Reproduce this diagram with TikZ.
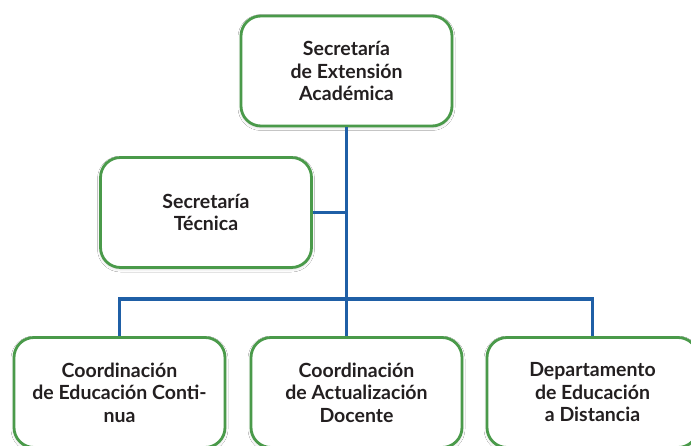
\documentclass[tikz,border=0pt]{standalone}
\usepackage{fontspec}
\setmainfont{Lato}
\usetikzlibrary{shadows.blur}
\definecolor{boxgreen}{HTML}{4A9A4A}
\definecolor{linkblue}{HTML}{1F5FA6}
\definecolor{txt}{HTML}{231F20}
\begin{document}
\begin{tikzpicture}[x=1pt,y=-1pt,
  orgbox/.style={draw=boxgreen, line width=2.8pt, fill=white, rounded corners=20pt,
    minimum width=211pt, minimum height=110pt, inner sep=0pt, align=center,
    text=txt, font=\fontsize{19.5}{22.5}\selectfont\bfseries,
    blur shadow={shadow blur steps=6, shadow xshift=0pt, shadow yshift=-1.5pt, shadow opacity=18, shadow blur radius=3pt}},
  link/.style={draw=linkblue, line width=3.2pt}]
\useasboundingbox (0,0) rectangle (691,446);
\fill[white] (0,0) rectangle (691,446);
\begin{scope}
\clip (0,0) rectangle (691,446);
\node[orgbox] (top) at (346.5,71) {Secretaría\\de Extensión\\Académica};
\node[orgbox] (st) at (206,212.5) {Secretaría\\Técnica};
\node[orgbox] (cl) at (119.5,392.5) {Coordinación\\de Educación Conti-\\nua};
\node[orgbox] (cm) at (356.5,392.5) {Coordinación\\de Actualización\\Docente};
\node[orgbox] (cr) at (592.5,392.5) {Departamento\\de Educación\\a Distancia};
\coordinate (j) at (346.5,299);
\draw[link] (top.south) -- (top.south |- cm.north);
\draw[link] (st.east) -- (st.east -| top.south);
\draw[link] (cl.north) |- (j) -| (cr.north);
\end{scope}
\end{tikzpicture}
\end{document}
